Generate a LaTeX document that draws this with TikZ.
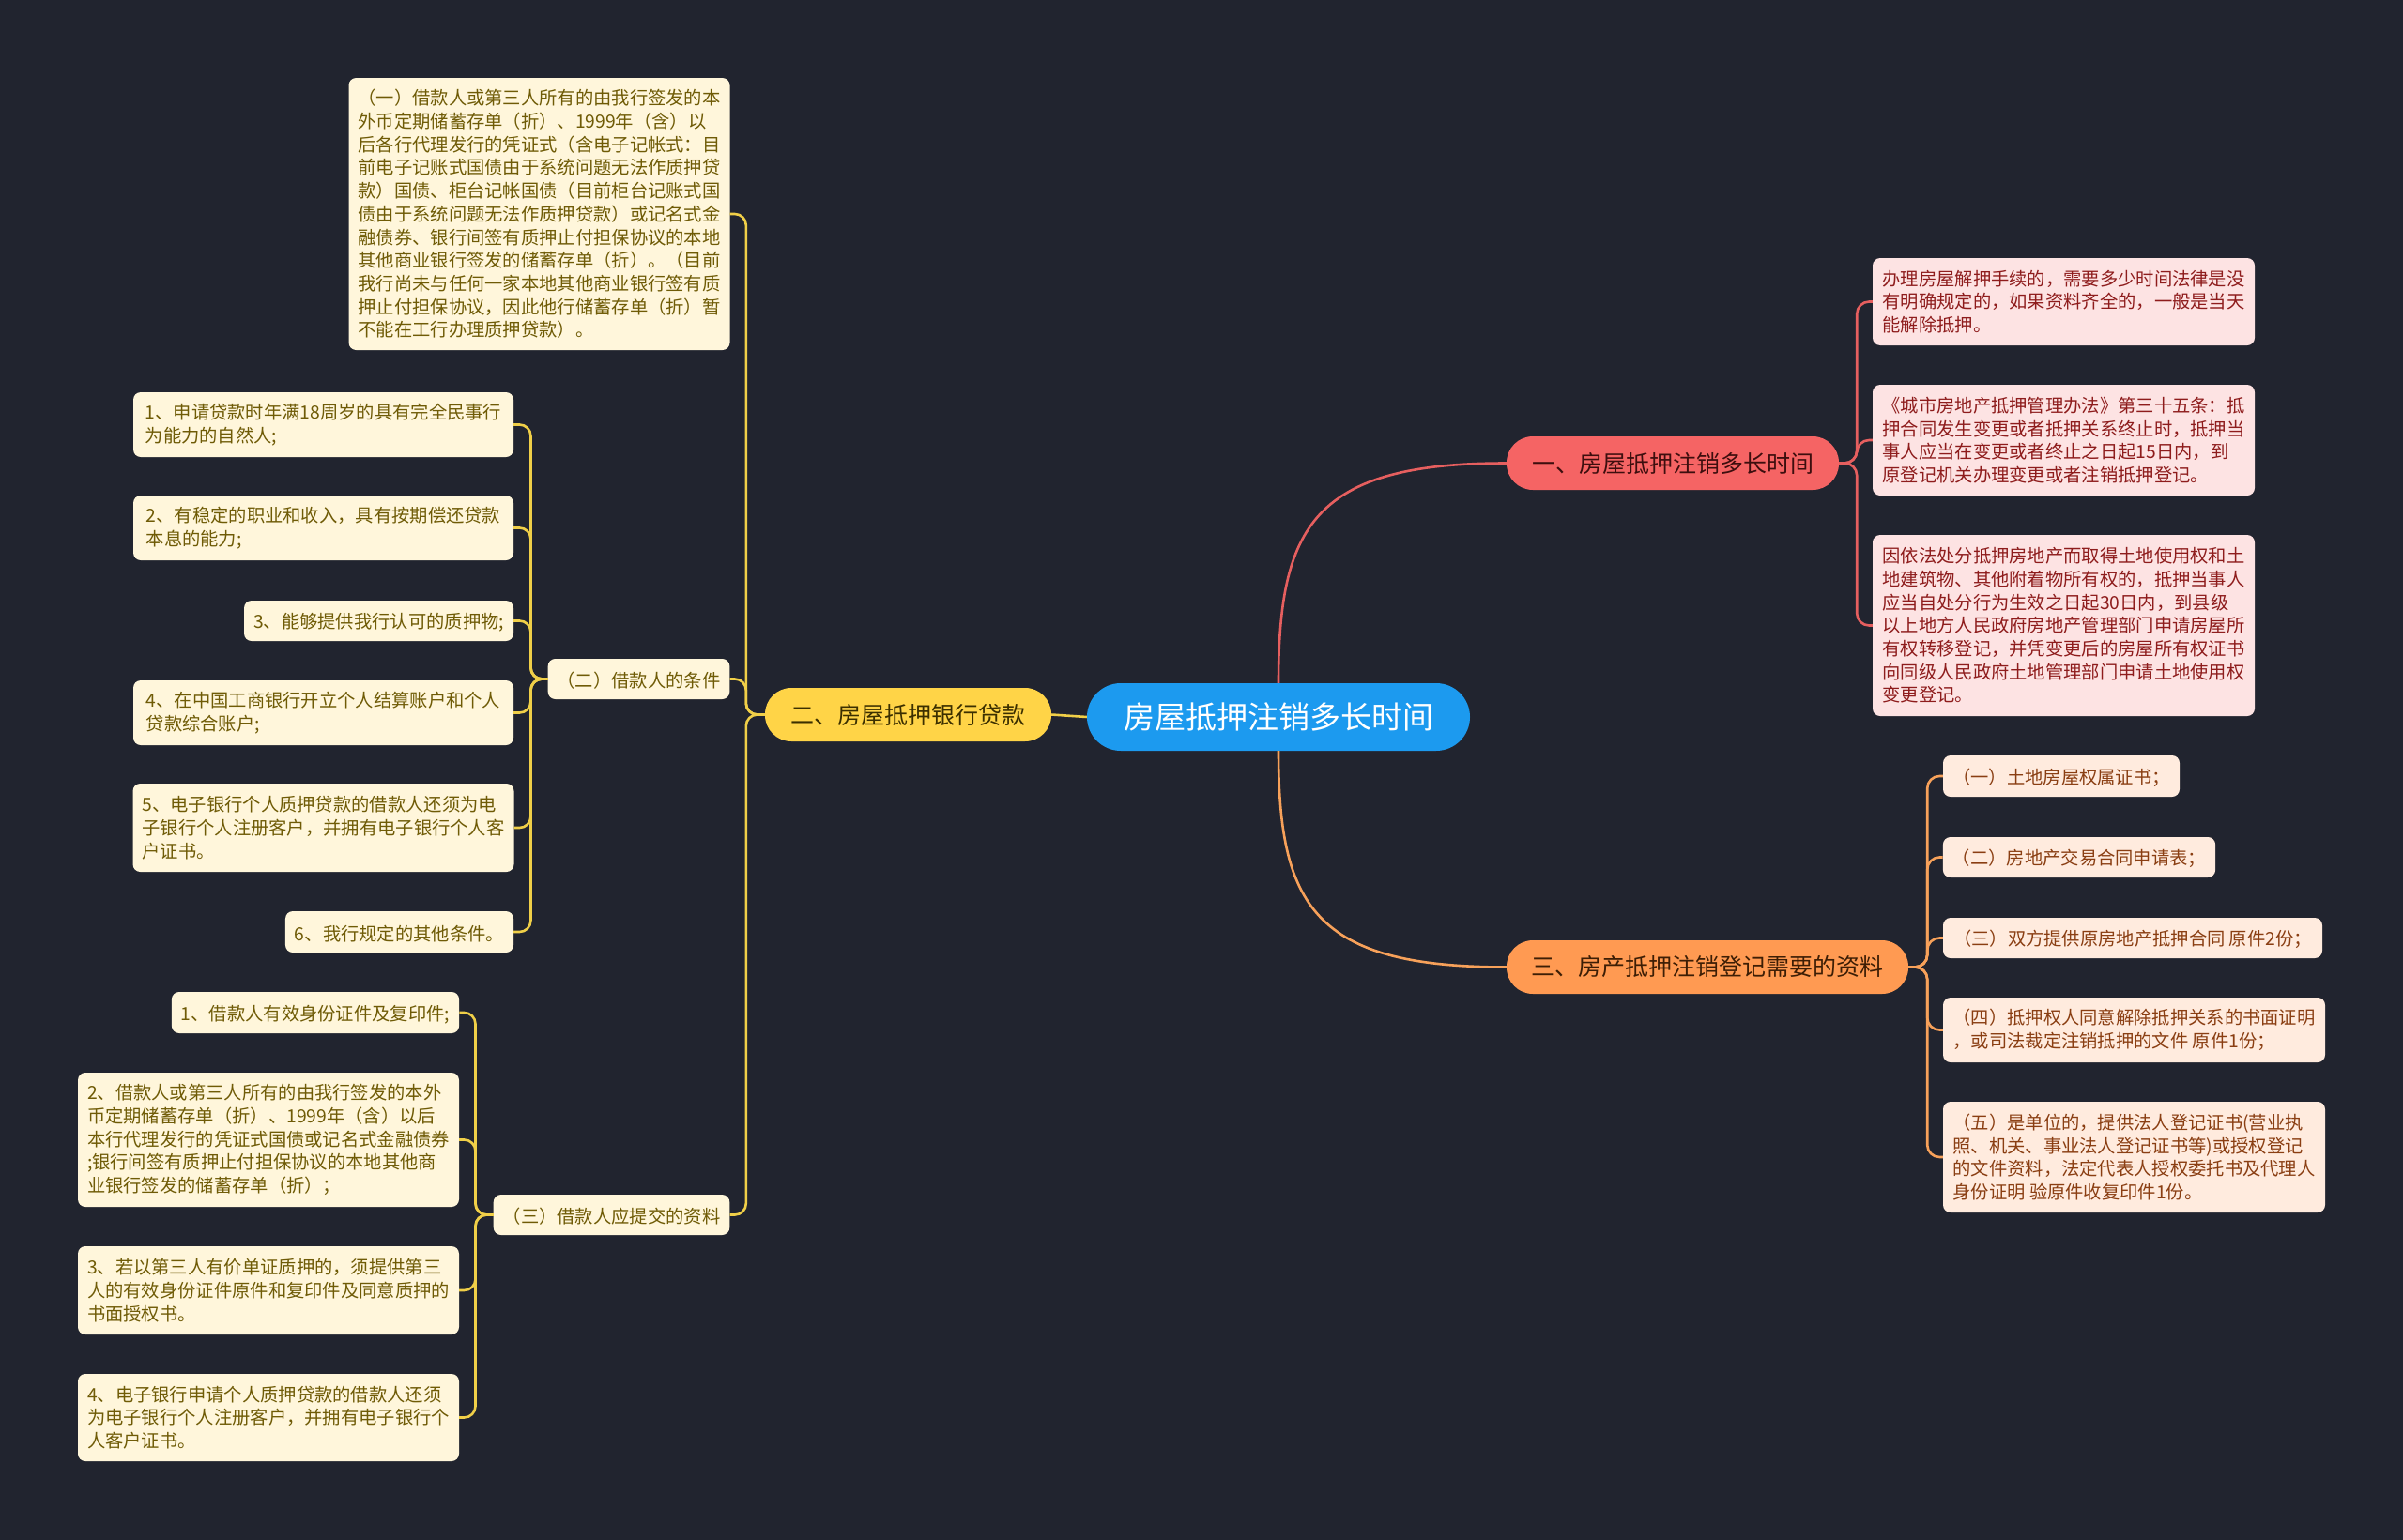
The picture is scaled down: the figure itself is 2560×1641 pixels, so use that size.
\documentclass[tikz,border=0pt]{standalone}
\usepackage{fontspec}
\setmainfont{Noto Sans CJK SC}
\definecolor{bgcol}{HTML}{21242F}
\definecolor{cfill}{HTML}{1C9AEF}
\definecolor{bonefill}{HTML}{F56464}
\definecolor{btwofill}{HTML}{FFD447}
\definecolor{bthreefill}{HTML}{FF9A52}
\definecolor{bonetext}{HTML}{3D0E0E}
\definecolor{btwotext}{HTML}{3B2F00}
\definecolor{bthreetext}{HTML}{3D1E05}
\definecolor{rfill}{HTML}{FDE3E3}
\definecolor{rtext}{HTML}{8E1C1C}
\definecolor{yfill}{HTML}{FFF6DB}
\definecolor{ytext}{HTML}{6F5B06}
\definecolor{ofill}{HTML}{FFEBDE}
\definecolor{otext}{HTML}{8A3E12}
\definecolor{rline}{HTML}{E65F5F}
\definecolor{yline}{HTML}{F0CF48}
\definecolor{oline}{HTML}{F7A15A}
\tikzset{
  leafbox/.style={rounded corners=8pt, inner xsep=10pt, inner ysep=0pt, align=left,
    font=\fontsize{19.3}{24.7}\selectfont, anchor=center,
    execute at begin node={\rule{0pt}{20pt}}},
  rleaf/.style={leafbox, fill=rfill, text=rtext},
  yleaf/.style={leafbox, fill=yfill, text=ytext},
  oleaf/.style={leafbox, fill=ofill, text=otext},
  branchbox/.style={rounded corners=28pt, inner sep=0pt, minimum height=57pt,
    font=\fontsize{25}{30}\selectfont, anchor=center},
  centerbox/.style={rounded corners=36pt, inner sep=0pt, minimum height=72pt,
    minimum width=408pt, fill=cfill, text=white, font=\fontsize{33}{40}\selectfont},
  rcon/.style={draw=rline, line width=2.6pt, rounded corners=13pt},
  ycon/.style={draw=yline, line width=2.6pt, rounded corners=12pt},
  ocon/.style={draw=oline, line width=2.6pt, rounded corners=13pt},
}
\begin{document}
\begin{tikzpicture}[x=1pt,y=-1pt]
\fill[bgcol] (0,0) rectangle (2560,1641);
\useasboundingbox (0,0) rectangle (2560,1641);

% central and branches
\node[centerbox] (c) at (1362,764) {房屋抵押注销多长时间};
\node[branchbox, fill=bonefill, text=bonetext, minimum width=354pt] (b1) at (1782,493.5) {一、房屋抵押注销多长时间};
\node[branchbox, fill=btwofill, text=btwotext, minimum width=305pt] (b2) at (967.5,761.5) {二、房屋抵押银行贷款};
\node[branchbox, fill=bthreefill, text=bthreetext, minimum width=428pt] (b3) at (1819,1030.5) {三、房产抵押注销登记需要的资料};

% red leaves
\node[rleaf, minimum width=407pt, minimum height=93pt] (r1) at (2198.5,321.5) {办理房屋解押手续的，需要多少时间法律是没\\有明确规定的，如果资料齐全的，一般是当天\\能解除抵押。};
\node[rleaf, minimum width=407pt, minimum height=118pt] (r2) at (2198.5,469) {《城市房地产抵押管理办法》第三十五条：抵\\押合同发生变更或者抵押关系终止时，抵押当\\事人应当在变更或者终止之日起15日内，到\\原登记机关办理变更或者注销抵押登记。};
\node[rleaf, minimum width=407pt, minimum height=193pt] (r3) at (2198.5,666.5) {因依法处分抵押房地产而取得土地使用权和土\\地建筑物、其他附着物所有权的，抵押当事人\\应当自处分行为生效之日起30日内，到县级\\以上地方人民政府房地产管理部门申请房屋所\\有权转移登记，并凭变更后的房屋所有权证书\\向同级人民政府土地管理部门申请土地使用权\\变更登记。};

% orange leaves
\node[oleaf, minimum width=252pt, minimum height=44pt] (o1) at (2196,827) {（一）土地房屋权属证书；};
\node[oleaf, minimum width=290pt, minimum height=43pt] (o2) at (2215,913.5) {（二）房地产交易合同申请表；};
\node[oleaf, minimum width=404pt, minimum height=43pt] (o3) at (2272,999.5) {（三）双方提供原房地产抵押合同 原件2份；};
\node[oleaf, minimum width=407pt, minimum height=69pt] (o4) at (2273.5,1097.5) {（四）抵押权人同意解除抵押关系的书面证明\\，或司法裁定注销抵押的文件 原件1份；};
\node[oleaf, minimum width=407pt, minimum height=118pt] (o5) at (2273.5,1233) {（五）是单位的，提供法人登记证书(营业执\\照、机关、事业法人登记证书等)或授权登记\\的文件资料，法定代表人授权委托书及代理人\\身份证明 验原件收复印件1份。};

% yellow level 2
\node[yleaf, minimum width=405pt, minimum height=290pt] (y1) at (574.5,228) {（一）借款人或第三人所有的由我行签发的本\\外币定期储蓄存单（折）、1999年（含）以\\后各行代理发行的凭证式（含电子记帐式：目\\前电子记账式国债由于系统问题无法作质押贷\\款）国债、柜台记帐国债（目前柜台记账式国\\债由于系统问题无法作质押贷款）或记名式金\\融债券、银行间签有质押止付担保协议的本地\\其他商业银行签发的储蓄存单（折）。（目前\\我行尚未与任何一家本地其他商业银行签有质\\押止付担保协议，因此他行储蓄存单（折）暂\\不能在工行办理质押贷款）。};
\node[yleaf, minimum width=193pt, minimum height=43pt] (y2) at (680.5,723.5) {（二）借款人的条件};
\node[yleaf, minimum width=251pt, minimum height=43pt] (y3) at (651.5,1294.5) {（三）借款人应提交的资料};

% yellow level 3 (conditions)
\node[yleaf, minimum width=405pt, minimum height=69pt] (k1) at (344.5,452.5) {1、申请贷款时年满18周岁的具有完全民事行\\为能力的自然人;};
\node[yleaf, minimum width=405pt, minimum height=69pt] (k2) at (344.5,562.5) {2、有稳定的职业和收入，具有按期偿还贷款\\本息的能力;};
\node[yleaf, minimum width=287pt, minimum height=43pt] (k3) at (403.5,661.5) {3、能够提供我行认可的质押物;};
\node[yleaf, minimum width=405pt, minimum height=69pt] (k4) at (344.5,759.5) {4、在中国工商银行开立个人结算账户和个人\\贷款综合账户;};
\node[yleaf, minimum width=405pt, minimum height=94pt] (k5) at (344.5,882) {5、电子银行个人质押贷款的借款人还须为电\\子银行个人注册客户，并拥有电子银行个人客\\户证书。};
\node[yleaf, minimum width=243pt, minimum height=44pt] (k6) at (425.5,993) {6、我行规定的其他条件。};

% yellow level 3 (documents)
\node[yleaf, minimum width=306pt, minimum height=44pt] (d1) at (336,1079) {1、借款人有效身份证件及复印件;};
\node[yleaf, minimum width=406pt, minimum height=143pt] (d2) at (286,1214.5) {2、借款人或第三人所有的由我行签发的本外\\币定期储蓄存单（折）、1999年（含）以后\\本行代理发行的凭证式国债或记名式金融债券\\;银行间签有质押止付担保协议的本地其他商\\业银行签发的储蓄存单（折）；};
\node[yleaf, minimum width=406pt, minimum height=94pt] (d3) at (286,1375) {3、若以第三人有价单证质押的，须提供第三\\人的有效身份证件原件和复印件及同意质押的\\书面授权书。};
\node[yleaf, minimum width=406pt, minimum height=93pt] (d4) at (286,1510.5) {4、电子银行申请个人质押贷款的借款人还须\\为电子银行个人注册客户，并拥有电子银行个\\人客户证书。};

% connectors from center
\draw[rcon] (c.north) .. controls +(0,-168) and +(-205,0) .. (b1.west);
\draw[ocon] (c.south) .. controls +(0,165) and +(-205,0) .. (b3.west);
\draw[ycon] (c.west) -- (b2.east);

% red
\foreach \t in {r1,r2,r3} \draw[rcon] (b1.east) -- ++(19,0) |- (\t.west);
% orange
\foreach \t in {o1,o2,o3,o4,o5} \draw[ocon] (b3.east) -- ++(20,0) |- (\t.west);
% yellow
\foreach \t in {y1,y2,y3} \draw[ycon] (b2.west) -- ++(-20,0) |- (\t.east);
\foreach \t in {k1,k2,k3,k4,k5,k6} \draw[ycon] (y2.west) -- ++(-18,0) |- (\t.east);
\foreach \t in {d1,d2,d3,d4} \draw[ycon] (y3.west) -- ++(-19,0) |- (\t.east);
\end{tikzpicture}
\end{document}
